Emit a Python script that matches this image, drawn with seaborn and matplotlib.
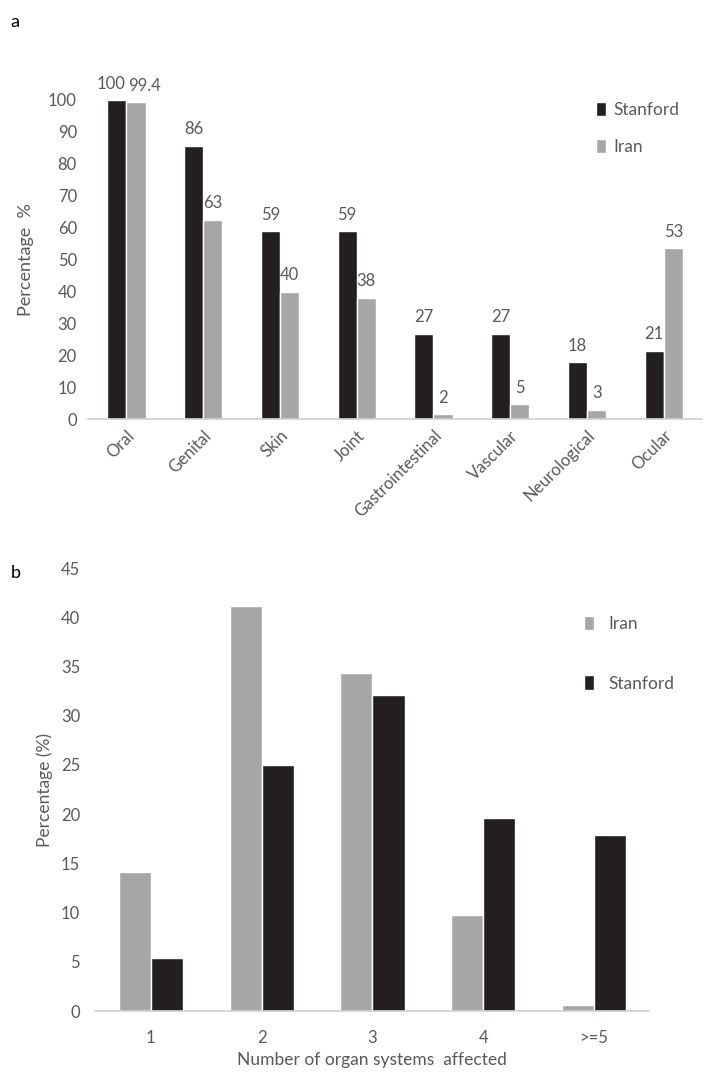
import pandas as pd
import matplotlib
matplotlib.use("Agg")
import matplotlib.pyplot as plt
import seaborn as sns

# panel a: organ involvement
organs = ["Oral", "Genital", "Skin", "Joint", "Gastrointestinal", "Vascular", "Neurological", "Ocular"]
stanford_a = [100, 85.7, 58.9, 58.9, 26.8, 26.8, 17.9, 21.4]
iran_a = [99.4, 62.5, 39.9, 38.0, 1.6, 4.6, 2.9, 53.6]
stanford_a_labels = ["100", "86", "59", "59", "27", "27", "18", "21"]
iran_a_labels = ["99.4", "63", "40", "38", "2", "5", "3", "53"]

# panel b: number of organ systems affected
n_systems = ["1", "2", "3", "4", ">=5"]
iran_b = [14.1, 41.1, 34.3, 9.8, 0.6]
stanford_b = [5.4, 25.0, 32.1, 19.6, 17.9]

BLACK = "#231f20"
GREY = "#a6a6a6"
TXT = "#595959"

sns.set_style("white")
plt.rcParams["font.family"] = ["Lato", "DejaVu Sans"]

df_a = pd.concat([
    pd.DataFrame({"organ": organs, "pct": stanford_a, "cohort": "Stanford"}),
    pd.DataFrame({"organ": organs, "pct": iran_a, "cohort": "Iran"}),
])
df_b = pd.concat([
    pd.DataFrame({"n": n_systems, "pct": iran_b, "cohort": "Iran"}),
    pd.DataFrame({"n": n_systems, "pct": stanford_b, "cohort": "Stanford"}),
])

fig = plt.figure(figsize=(7.1, 10.75), dpi=100)
ax1 = fig.add_axes([0.124, 0.6102, 0.865, 0.2968])
ax2 = fig.add_axes([0.1345, 0.0595, 0.780, 0.4121])

pal = {"Stanford": BLACK, "Iran": GREY}

# --- panel a
sns.barplot(data=df_a, x="organ", y="pct", hue="cohort", hue_order=["Stanford", "Iran"],
            palette=pal, width=0.5, saturation=1, ax=ax1, legend=True)
ax1.set_ylim(0, 100)
ax1.set_xlim(-0.5, 7.5)
ax1.set_yticks(range(0, 101, 10))
ax1.set_xlabel("")
ax1.set_ylabel("Percentage  %", fontsize=13, color=TXT, labelpad=10)
anns = []
for cont, labs in zip(ax1.containers, [stanford_a_labels, iran_a_labels]):
    anns.append(ax1.bar_label(cont, labels=labs, padding=6, fontsize=12, color=TXT, clip_on=False))
# the two Oral labels are pushed apart so they don't collide
anns[0][0].xyann = (-4, 6)
anns[1][0].xyann = (6, 6)
ax1.tick_params(axis="y", labelsize=12, labelcolor=TXT, length=0, pad=8)
ax1.tick_params(axis="x", labelsize=12, labelcolor=TXT, length=0, pad=6)
plt.setp(ax1.get_xticklabels(), rotation=45, ha="right", rotation_mode="anchor")
ax1.legend(loc="upper left", bbox_to_anchor=(0.827, 0.995), frameon=False, fontsize=12.5,
           handlelength=0.6, handleheight=0.9, handletextpad=0.4, labelspacing=1.2,
           borderpad=0, borderaxespad=0, labelcolor=TXT)

# --- panel b
sns.barplot(data=df_b, x="n", y="pct", hue="cohort", hue_order=["Iran", "Stanford"],
            palette=pal, width=0.58, saturation=1, ax=ax2, legend=True)
ax2.set_ylim(0, 45)
ax2.set_xlim(-0.5, 4.5)
ax2.set_yticks(range(0, 46, 5))
ax2.set_xlabel("Number of organ systems  affected", fontsize=12.5, color=TXT, labelpad=4)
ax2.set_ylabel("Percentage (%)", fontsize=12.5, color=TXT, labelpad=6)
ax2.tick_params(axis="y", labelsize=12, labelcolor=TXT, length=0, pad=11)
ax2.tick_params(axis="x", labelsize=12, labelcolor=TXT, length=0, pad=14)
ax2.legend(loc="upper left", bbox_to_anchor=(0.882, 0.892), frameon=False, fontsize=12.5,
           handlelength=0.6, handleheight=0.9, handletextpad=0.8, labelspacing=2.5,
           borderpad=0, borderaxespad=0, labelcolor=TXT)

for ax in (ax1, ax2):
    sns.despine(ax=ax, left=True)
    ax.spines["bottom"].set_color("#d0d0d0")
    ax.spines["bottom"].set_linewidth(1.2)
    ax.grid(False)

fig.text(0.015, 0.975, "a", fontsize=13, color="black")
fig.text(0.015, 0.462, "b", fontsize=13, color="black")

fig.savefig("out.png", dpi=100)
